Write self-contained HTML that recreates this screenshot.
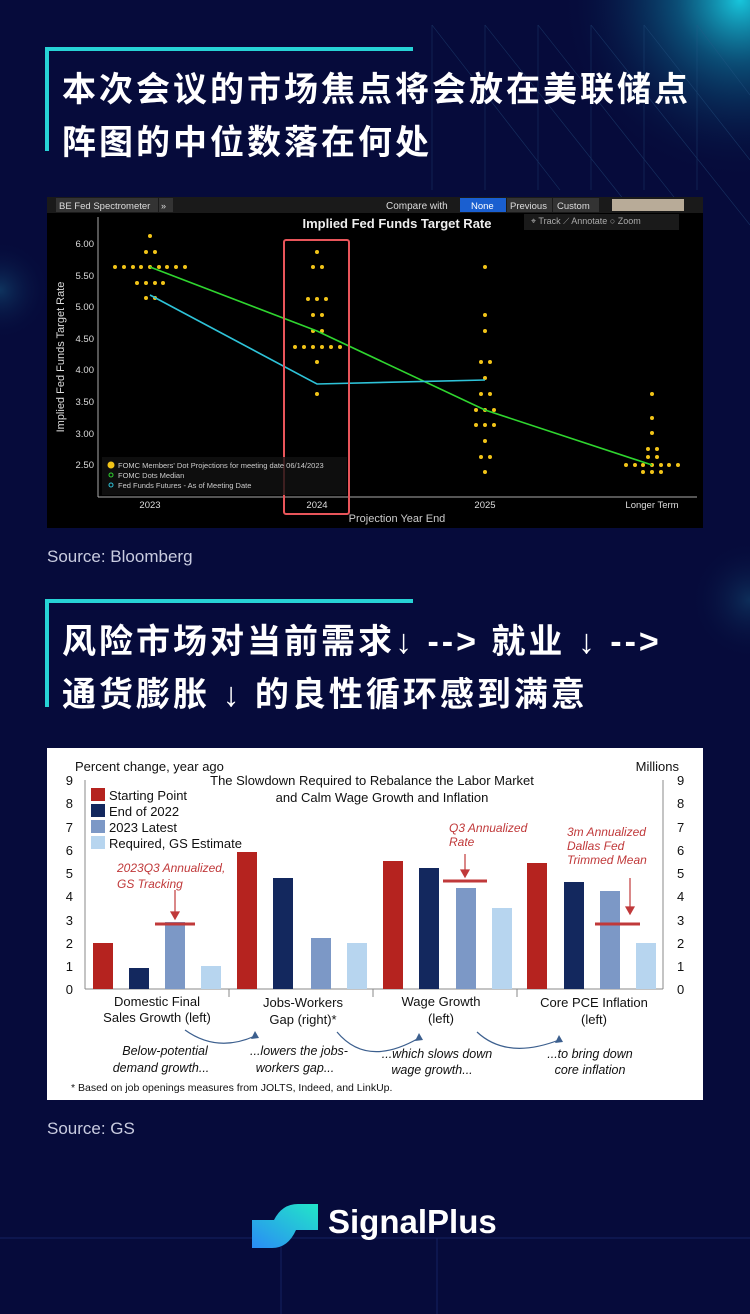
<!DOCTYPE html>
<html><head><meta charset="utf-8"><style>
body{margin:0;width:750px;height:1314px;background:#060b3b;overflow:hidden;position:relative;font-family:"Liberation Sans","Noto Sans CJK SC",sans-serif}
.abs{position:absolute}
.t{color:#fff;font-weight:bold;font-size:34px;left:62px;font-family:"Liberation Sans","Noto Sans CJK SC",sans-serif;white-space:nowrap;letter-spacing:3px}
.src{color:#c9cce0;font-size:17px;left:47px}
</style></head><body>
<svg class="abs" style="left:0;top:0" width="750" height="1314">
<defs>
<radialGradient id="g1" cx="740" cy="0" r="180" gradientUnits="userSpaceOnUse"><stop offset="0" stop-color="#18c6dc"/><stop offset="0.35" stop-color="#0d6a8f" stop-opacity="0.7"/><stop offset="1" stop-color="#060b3b" stop-opacity="0"/></radialGradient>
<radialGradient id="g2" cx="0" cy="290" r="50" gradientUnits="userSpaceOnUse"><stop offset="0" stop-color="#1f7fa0" stop-opacity="0.35"/><stop offset="1" stop-color="#060b3b" stop-opacity="0"/></radialGradient>
<radialGradient id="g3" cx="750" cy="600" r="60" gradientUnits="userSpaceOnUse"><stop offset="0" stop-color="#1f7fa0" stop-opacity="0.3"/><stop offset="1" stop-color="#060b3b" stop-opacity="0"/></radialGradient>
</defs>
<rect width="750" height="1314" fill="#060b3b"/>
<rect width="750" height="300" fill="url(#g1)"/>
<rect width="100" height="400" fill="url(#g2)"/>
<rect x="650" y="500" width="100" height="200" fill="url(#g3)"/>
<g stroke="#2a5a8a" stroke-width="0.6" opacity="0.5">
<line x1="432" y1="25" x2="560" y2="190"/><line x1="485" y1="25" x2="640" y2="220"/><line x1="538" y1="25" x2="700" y2="230"/><line x1="591" y1="25" x2="750" y2="225"/><line x1="644" y1="25" x2="750" y2="160"/><line x1="697" y1="25" x2="750" y2="95"/>
<line x1="432" y1="25" x2="432" y2="190"/><line x1="485" y1="25" x2="485" y2="190"/><line x1="538" y1="25" x2="538" y2="190"/><line x1="591" y1="25" x2="591" y2="190"/><line x1="644" y1="25" x2="644" y2="190"/><line x1="697" y1="25" x2="697" y2="190"/>
</g>
<g stroke="#142060" stroke-width="1"><line x1="0" y1="1238" x2="750" y2="1238"/><line x1="281" y1="1238" x2="281" y2="1314"/><line x1="437" y1="1238" x2="437" y2="1314"/></g>
<g fill="#27d3d6"><rect x="45" y="47" width="368" height="4"/><rect x="45" y="47" width="4" height="104"/><rect x="45" y="599" width="368" height="4"/><rect x="45" y="599" width="4" height="108"/></g>
</svg>
<div class="abs t" style="top:62px">本次会议的市场焦点将会放在美联储点</div>
<div class="abs t" style="top:115px">阵图的中位数落在何处</div>
<div class="abs t" style="top:614px">风险市场对当前需求↓ --&gt; 就业 ↓ --&gt;</div>
<div class="abs t" style="top:667px">通货膨胀 ↓ 的良性循环感到满意</div>
<div class="abs src" style="top:547px">Source: Bloomberg</div>
<div class="abs src" style="top:1119px">Source: GS</div>

<svg class="abs" style="left:47px;top:197px" width="656" height="331" font-family="Liberation Sans, sans-serif">
<rect width="656" height="331" fill="#000"/>
<rect width="656" height="16" fill="#1a1a1a"/>
<rect x="9" y="1" width="102" height="14" fill="#333"/><text x="12" y="12" fill="#ddd" font-size="9.5">BE Fed Spectrometer</text>
<rect x="112" y="1" width="14" height="14" fill="#333"/><text x="114" y="12" fill="#ddd" font-size="9">»</text>
<text x="339" y="12" fill="#ddd" font-size="10">Compare with</text>
<rect x="413" y="1" width="46" height="14" fill="#1a5fd0"/><text x="424" y="12" fill="#fff" font-size="9.5">None</text>
<rect x="460" y="1" width="45" height="14" fill="#333"/><text x="463" y="12" fill="#ddd" font-size="9.5">Previous</text>
<rect x="506" y="1" width="46" height="14" fill="#333"/><text x="510" y="12" fill="#ddd" font-size="9.5">Custom</text>
<rect x="565" y="2" width="72" height="12" fill="#b8ab98"/>
<text x="350" y="31" fill="#eee" font-size="13" font-weight="bold" text-anchor="middle">Implied Fed Funds Target Rate</text>
<rect x="477" y="17" width="155" height="16" fill="#1a1a1a"/>
<text x="484" y="27" fill="#aaa" font-size="9">⌖ Track  ⟋ Annotate  ○ Zoom</text>
<g stroke="#aaa" stroke-width="1"><line x1="51" y1="20" x2="51" y2="300"/><line x1="51" y1="300" x2="650" y2="300"/></g>
<g fill="#ddd" font-size="9.5" text-anchor="end">
<text x="47" y="50">6.00</text><text x="47" y="82">5.50</text><text x="47" y="113">5.00</text><text x="47" y="145">4.50</text><text x="47" y="176">4.00</text><text x="47" y="208">3.50</text><text x="47" y="240">3.00</text><text x="47" y="271">2.50</text></g>
<text transform="translate(17,160) rotate(-90)" fill="#ddd" font-size="11" text-anchor="middle">Implied Fed Funds Target Rate</text>
<g fill="#ddd" font-size="9.5" text-anchor="middle"><text x="103" y="311">2023</text><text x="270" y="311">2024</text><text x="438" y="311">2025</text><text x="605" y="311">Longer Term</text></g>
<text x="350" y="325" fill="#ccc" font-size="11" text-anchor="middle">Projection Year End</text>
<g fill="#f2c418">
<circle cx="103" cy="39" r="2"/>
<circle cx="99" cy="55" r="2"/><circle cx="108" cy="55" r="2"/>
<circle cx="68" cy="70" r="2"/><circle cx="77" cy="70" r="2"/><circle cx="86" cy="70" r="2"/><circle cx="94" cy="70" r="2"/><circle cx="103" cy="70" r="2"/><circle cx="112" cy="70" r="2"/><circle cx="120" cy="70" r="2"/><circle cx="129" cy="70" r="2"/><circle cx="138" cy="70" r="2"/>
<circle cx="90" cy="86" r="2"/><circle cx="99" cy="86" r="2"/><circle cx="108" cy="86" r="2"/><circle cx="116" cy="86" r="2"/>
<circle cx="99" cy="101" r="2"/><circle cx="108" cy="101" r="2"/>
<circle cx="270" cy="55" r="2"/>
<circle cx="266" cy="70" r="2"/><circle cx="275" cy="70" r="2"/>
<circle cx="261" cy="102" r="2"/><circle cx="270" cy="102" r="2"/><circle cx="279" cy="102" r="2"/>
<circle cx="266" cy="118" r="2"/><circle cx="275" cy="118" r="2"/>
<circle cx="266" cy="134" r="2"/><circle cx="275" cy="134" r="2"/>
<circle cx="248" cy="150" r="2"/><circle cx="257" cy="150" r="2"/><circle cx="266" cy="150" r="2"/><circle cx="275" cy="150" r="2"/><circle cx="284" cy="150" r="2"/><circle cx="293" cy="150" r="2"/>
<circle cx="270" cy="165" r="2"/>
<circle cx="270" cy="197" r="2"/>
<circle cx="438" cy="70" r="2"/>
<circle cx="438" cy="118" r="2"/><circle cx="438" cy="134" r="2"/>
<circle cx="434" cy="165" r="2"/><circle cx="443" cy="165" r="2"/>
<circle cx="438" cy="181" r="2"/>
<circle cx="434" cy="197" r="2"/><circle cx="443" cy="197" r="2"/>
<circle cx="429" cy="213" r="2"/><circle cx="438" cy="213" r="2"/><circle cx="447" cy="213" r="2"/>
<circle cx="429" cy="228" r="2"/><circle cx="438" cy="228" r="2"/><circle cx="447" cy="228" r="2"/>
<circle cx="438" cy="244" r="2"/>
<circle cx="434" cy="260" r="2"/><circle cx="443" cy="260" r="2"/>
<circle cx="438" cy="275" r="2"/>
<circle cx="605" cy="197" r="2"/><circle cx="605" cy="221" r="2"/><circle cx="605" cy="236" r="2"/>
<circle cx="601" cy="252" r="2"/><circle cx="610" cy="252" r="2"/>
<circle cx="601" cy="260" r="2"/><circle cx="610" cy="260" r="2"/>
<circle cx="579" cy="268" r="2"/><circle cx="588" cy="268" r="2"/><circle cx="596" cy="268" r="2"/><circle cx="605" cy="268" r="2"/><circle cx="614" cy="268" r="2"/><circle cx="622" cy="268" r="2"/><circle cx="631" cy="268" r="2"/>
<circle cx="596" cy="275" r="2"/><circle cx="605" cy="275" r="2"/><circle cx="614" cy="275" r="2"/>
</g>
<polyline points="103,70 270,134 438,213 605,268" fill="none" stroke="#2fd52f" stroke-width="1.6"/>
<polyline points="103,98 270,187 438,183" fill="none" stroke="#2ec3d8" stroke-width="1.6"/>
<rect x="237" y="43" width="65" height="274" fill="none" stroke="#e8555a" stroke-width="2" rx="2"/>
<rect x="55" y="260" width="245" height="38" fill="#111" opacity="0.8"/>
<circle cx="64" cy="268" r="3.5" fill="#f2c418"/><text x="71" y="271" fill="#ccc" font-size="7.5">FOMC Members' Dot Projections for meeting date 06/14/2023</text>
<circle cx="64" cy="278" r="2" fill="none" stroke="#2fd52f"/><text x="71" y="281" fill="#ccc" font-size="7.5">FOMC Dots Median</text>
<circle cx="64" cy="288" r="2" fill="none" stroke="#2ec3d8"/><text x="71" y="291" fill="#ccc" font-size="7.5">Fed Funds Futures - As of Meeting Date</text>
</svg>

<svg class="abs" style="left:47px;top:748px" width="656" height="352" font-family="Liberation Sans, sans-serif">
<rect width="656" height="352" fill="#fff"/>
<text x="28" y="23" font-size="13" fill="#111">Percent change, year ago</text>
<text x="632" y="23" font-size="13" fill="#111" text-anchor="end">Millions</text>
<text x="325" y="37" font-size="13" fill="#111" text-anchor="middle">The Slowdown Required to Rebalance the Labor Market</text>
<text x="335" y="54" font-size="13" fill="#111" text-anchor="middle">and Calm Wage Growth and Inflation</text>
<g font-size="13" fill="#111" text-anchor="end">
<text x="26" y="246">0</text><text x="26" y="223">1</text><text x="26" y="200">2</text><text x="26" y="177">3</text><text x="26" y="153">4</text><text x="26" y="130">5</text><text x="26" y="107">6</text><text x="26" y="84">7</text><text x="26" y="60">8</text><text x="26" y="37">9</text></g>
<g font-size="13" fill="#111">
<text x="630" y="246">0</text><text x="630" y="223">1</text><text x="630" y="200">2</text><text x="630" y="177">3</text><text x="630" y="153">4</text><text x="630" y="130">5</text><text x="630" y="107">6</text><text x="630" y="84">7</text><text x="630" y="60">8</text><text x="630" y="37">9</text></g>
<g stroke="#888" stroke-width="1"><line x1="38" y1="32" x2="38" y2="241"/><line x1="616" y1="32" x2="616" y2="241"/><line x1="38" y1="241" x2="616" y2="241"/>
<line x1="182" y1="241" x2="182" y2="249"/><line x1="326" y1="241" x2="326" y2="249"/><line x1="470" y1="241" x2="470" y2="249"/></g>
<rect x="44" y="40" width="14" height="13" fill="#b5231f"/><text x="62" y="52" font-size="13" fill="#111">Starting Point</text>
<rect x="44" y="56" width="14" height="13" fill="#13285e"/><text x="62" y="68" font-size="13" fill="#111">End of 2022</text>
<rect x="44" y="72" width="14" height="13" fill="#7c98c6"/><text x="62" y="84" font-size="13" fill="#111">2023 Latest</text>
<rect x="44" y="88" width="14" height="13" fill="#b7d5ef"/><text x="62" y="100" font-size="13" fill="#111">Required, GS Estimate</text>
<g>
<rect x="46" y="195" width="20" height="46" fill="#b5231f"/><rect x="82" y="220" width="20" height="21" fill="#13285e"/><rect x="118" y="174" width="20" height="67" fill="#7c98c6"/><rect x="154" y="218" width="20" height="23" fill="#b7d5ef"/>
<rect x="190" y="104" width="20" height="137" fill="#b5231f"/><rect x="226" y="130" width="20" height="111" fill="#13285e"/><rect x="264" y="190" width="20" height="51" fill="#7c98c6"/><rect x="300" y="195" width="20" height="46" fill="#b7d5ef"/>
<rect x="336" y="113" width="20" height="128" fill="#b5231f"/><rect x="372" y="120" width="20" height="121" fill="#13285e"/><rect x="409" y="140" width="20" height="101" fill="#7c98c6"/><rect x="445" y="160" width="20" height="81" fill="#b7d5ef"/>
<rect x="480" y="115" width="20" height="126" fill="#b5231f"/><rect x="517" y="134" width="20" height="107" fill="#13285e"/><rect x="553" y="143" width="20" height="98" fill="#7c98c6"/><rect x="589" y="195" width="20" height="46" fill="#b7d5ef"/>
</g>
<g stroke="#c0393a" stroke-width="3"><line x1="108" y1="176" x2="148" y2="176"/><line x1="396" y1="133" x2="440" y2="133"/><line x1="548" y1="176" x2="593" y2="176"/></g>
<g stroke="#c0393a" stroke-width="1.2" fill="#c0393a"><line x1="128" y1="142" x2="128" y2="166"/><path d="M124,164 L132,164 L128,171Z"/><line x1="418" y1="106" x2="418" y2="124"/><path d="M414,122 L422,122 L418,129Z"/><line x1="583" y1="130" x2="583" y2="161"/><path d="M579,159 L587,159 L583,166Z"/></g>
<g font-size="12" fill="#c0393a" font-style="italic">
<text x="70" y="124">2023Q3 Annualized,</text><text x="70" y="140">GS Tracking</text>
<text x="402" y="84">Q3 Annualized</text><text x="402" y="98">Rate</text>
<text x="520" y="88">3m Annualized</text><text x="520" y="102">Dallas Fed</text><text x="520" y="116">Trimmed Mean</text>
</g>
<g font-size="13" fill="#111" text-anchor="middle">
<text x="110" y="258">Domestic Final</text><text x="110" y="274">Sales Growth (left)</text>
<text x="256" y="259">Jobs-Workers</text><text x="256" y="276">Gap (right)*</text>
<text x="394" y="258">Wage Growth</text><text x="394" y="275">(left)</text>
<text x="547" y="259">Core PCE Inflation</text><text x="547" y="276">(left)</text></g>
<g font-size="12.5" fill="#111" text-anchor="middle" font-style="italic">
<text x="118" y="307">Below-potential</text><text x="114" y="324">demand growth...</text>
<text x="252" y="307">...lowers the jobs-</text><text x="248" y="324">workers gap...</text>
<text x="390" y="310">...which slows down</text><text x="385" y="326">wage growth...</text>
<text x="543" y="310">...to bring down</text><text x="543" y="326">core inflation</text></g>
<g fill="none" stroke="#3c5f8e" stroke-width="1.2"><path d="M138,282 Q170,305 208,288"/><path d="M290,284 Q320,320 372,290"/><path d="M430,284 Q460,312 512,292"/></g>
<g fill="#3c5f8e"><path d="M208,283 L212,290 L204,291Z"/><path d="M372,285 L376,292 L368,293Z"/><path d="M512,287 L516,294 L508,295Z"/></g>
<text x="24" y="343" font-size="10.5" fill="#111">* Based on job openings measures from JOLTS, Indeed, and LinkUp.</text>
</svg>

<svg class="abs" style="left:250px;top:1200px" width="72" height="52">
<defs><linearGradient id="lg" x1="0" y1="1" x2="1" y2="0"><stop offset="0" stop-color="#2a8cf5"/><stop offset="1" stop-color="#22e6c8"/></linearGradient></defs>
<path d="M2,20 L24,20 Q32,4 48,4 L68,4 L68,30 L46,30 Q38,48 22,48 L2,48Z" fill="url(#lg)"/>
</svg>
<div class="abs" style="left:328px;top:1203px;color:#fff;font-size:33px;font-weight:bold;font-family:'Liberation Sans',sans-serif">SignalPlus</div>
</body></html>
